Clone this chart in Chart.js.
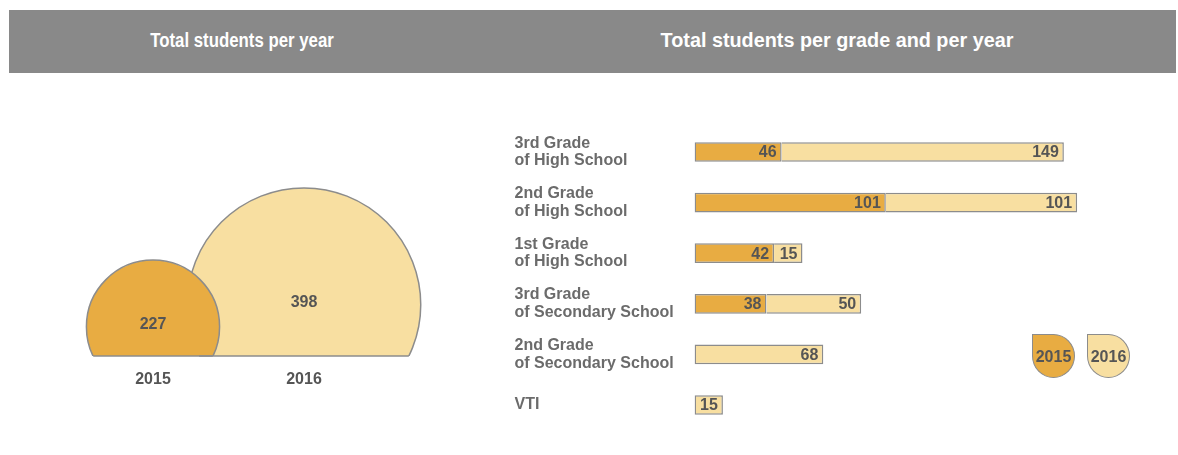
<!DOCTYPE html>
<html lang="en">
<head>
<meta charset="utf-8"/>
<title>Total students</title>
<script src="https://cdn.jsdelivr.net/npm/chart.js"></script>
<style>
  body {
    margin: 0;
    width: 1178px;
    height: 455px;
    position: relative;
    overflow: hidden;
    background: #fff;
    font-family: "Liberation Sans", Arial, sans-serif;
  }
  .header {
    position: absolute;
    left: 9px;
    top: 10px;
    width: 1167px;
    height: 63px;
    background: #898989;
  }
  .header span {
    position: absolute;
    top: 0;
    line-height: 60px;
    color: #fff;
    font-weight: bold;
    font-size: 20px;
    white-space: nowrap;
    transform: translateX(-50%) scaleX(0.84);
  }
  .header span.wide {
    transform: translateX(-50%) scaleX(0.99);
  }
  #chart-year {
    position: absolute;
    left: 0;
    top: 80px;
  }
  #chart-grade {
    position: absolute;
    left: 500px;
    top: 80px;
  }
  #legend {
    position: absolute;
    left: 1032px;
    top: 334px;
    display: flex;
    gap: 12px;
  }
  .key {
    width: 41px;
    height: 42px;
    border: 1.5px solid #8c8c8c;
    border-radius: 0 50% 50% 50%;
    color: #555;
    font-weight: bold;
    font-size: 16px;
    line-height: 44px;
    text-align: center;
  }
</style>
</head>
<body>
<div class="header">
  <span style="left: 233px">Total students per year</span>
  <span class="wide" style="left: 828px">Total students per grade and per year</span>
</div>
<canvas id="chart-year" width="480" height="375"></canvas>
<canvas id="chart-grade" width="678" height="375"></canvas>
<div id="legend"></div>
<script>
  const years = ['2015', '2016'];
  const yearTotals = [227, 398];

  const grades = [
    ['3rd Grade', 'of High School'],
    ['2nd Grade', 'of High School'],
    ['1st Grade', 'of High School'],
    ['3rd Grade', 'of Secondary School'],
    ['2nd Grade', 'of Secondary School'],
    'VTI'
  ];
  const students2015 = [46, 101, 42, 38, null, null];
  const students2016 = [149, 101, 15, 50, 68, 15];

  const yearColors = ['#e8ac42', '#f8dfa1'];
  const outline = '#8c8c8c';
  const valueColor = '#555';
  const boldFont = size => ({ family: '"Liberation Sans", Arial, sans-serif', weight: 'bold', size });

  // y axis of the circle chart: 0..Y_MAX over the plot height (~0.293 px per student)
  const Y_MAX = 900;
  const PX_PER_STUDENT = 264 / Y_MAX;
  // circle centre sits this share of its radius above the baseline
  const SINK = 0.44;

  const circlePlugin = {
    id: 'circleChords',
    afterDatasetsDraw(chart) {
      const { ctx, chartArea } = chart;
      const base = chartArea.bottom;
      ctx.save();
      ctx.strokeStyle = outline;
      ctx.lineWidth = 1.5;
      chart.data.datasets.forEach((ds, i) => {
        chart.getDatasetMeta(i).data.forEach((el, j) => {
          const r = ds.data[j].r;
          const d = base - el.y;
          const half = Math.sqrt(Math.max(r * r - d * d, 0));
          ctx.beginPath();
          ctx.moveTo(el.x - half, base);
          ctx.lineTo(el.x + half, base);
          ctx.stroke();
        });
      });
      ctx.fillStyle = valueColor;
      ctx.font = 'bold 16px "Liberation Sans", Arial, sans-serif';
      ctx.textAlign = 'center';
      ctx.textBaseline = 'middle';
      chart.data.datasets.forEach((ds, i) => {
        chart.getDatasetMeta(i).data.forEach((el, j) => {
          ctx.fillText(ds.data[j].v, el.x, el.y - 2);
        });
      });
      ctx.restore();
    }
  };

  // 2015 first so it is painted on top of 2016
  new Chart(document.getElementById('chart-year'), {
    type: 'bubble',
    data: {
      datasets: years.map((yr, i) => ({
        label: yr,
        data: [{ x: yr, y: yearTotals[i] * SINK, r: yearTotals[i] * PX_PER_STUDENT, v: yearTotals[i] }],
        backgroundColor: yearColors[i],
        borderColor: outline,
        borderWidth: 1.5,
        hoverRadius: 0,
        clip: { left: false, top: false, right: false, bottom: 0 }
      }))
    },
    options: {
      responsive: false,
      animation: false,
      events: [],
      layout: { autoPadding: false, padding: { left: 77.5, right: 100.5, top: 12, bottom: 51.8 } },
      plugins: { legend: { display: false }, tooltip: { enabled: false } },
      scales: {
        x: {
          type: 'category',
          labels: years,
          offset: true,
          grid: { display: false, drawTicks: false },
          border: { display: false },
          ticks: { color: valueColor, font: boldFont(16), padding: 14 }
        },
        y: { display: false, min: 0, max: Y_MAX }
      }
    },
    plugins: [circlePlugin]
  });

  const barValuePlugin = {
    id: 'barValues',
    afterDatasetsDraw(chart) {
      const { ctx } = chart;
      ctx.save();
      ctx.fillStyle = valueColor;
      ctx.font = 'bold 16px "Liberation Sans", Arial, sans-serif';
      ctx.textAlign = 'right';
      ctx.textBaseline = 'middle';
      chart.data.datasets.forEach((ds, i) => {
        chart.getDatasetMeta(i).data.forEach((el, j) => {
          const v = ds.data[j];
          if (!v) return;
          ctx.fillText(v, el.x - 5, el.y + 1);
        });
      });
      ctx.restore();
    }
  };

  const gradeChart = new Chart(document.getElementById('chart-grade'), {
    type: 'bar',
    data: {
      labels: grades,
      datasets: [
        {
          label: years[0],
          data: students2015,
          backgroundColor: yearColors[0],
          borderColor: outline,
          borderWidth: 1.5,
          borderSkipped: false
        },
        {
          label: years[1],
          data: students2016,
          backgroundColor: yearColors[1],
          borderColor: outline,
          borderWidth: 1.5,
          borderSkipped: ctx => students2015[ctx.dataIndex] ? 'start' : false
        }
      ]
    },
    options: {
      indexAxis: 'y',
      responsive: false,
      animation: false,
      events: [],
      barPercentage: 0.39,
      categoryPercentage: 1,
      layout: { padding: { left: 14.5, right: 28.9, top: 46.7, bottom: 24.7 } },
      plugins: { legend: { display: false }, tooltip: { enabled: false } },
      scales: {
        x: { display: false, stacked: true, min: 0, max: 240 },
        y: {
          stacked: true,
          grid: { display: false },
          border: { display: false },
          afterFit: s => { s.width = 180; },
          ticks: {
            crossAlign: 'far',
            color: '#6b6b6b',
            font: { ...boldFont(16), lineHeight: 1.1 }
          }
        }
      }
    },
    plugins: [barValuePlugin]
  });

  const legend = document.getElementById('legend');
  gradeChart.data.datasets.forEach(ds => {
    const key = document.createElement('div');
    key.className = 'key';
    key.style.background = ds.backgroundColor;
    key.textContent = ds.label;
    legend.appendChild(key);
  });
</script>
</body>
</html>
